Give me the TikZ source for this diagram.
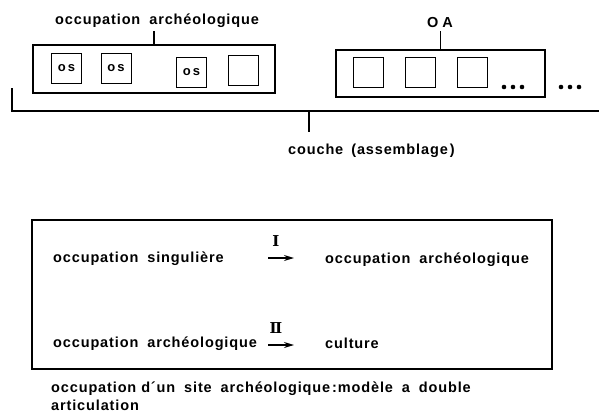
\documentclass[tikz,border=0pt]{standalone}
\usepackage{fontspec}
\newfontfamily\labfont{Liberation Sans Bold}[LetterSpace=6]
\newfontfamily\numfont{DejaVu Serif}
\usetikzlibrary{arrows.meta}
\tikzset{
  lab/.style={font=\labfont\fontsize{14.5}{17}\selectfont, inner sep=0pt, anchor=base west},
  labc/.style={lab, anchor=base},
  sq/.style={draw, line width=1pt, minimum width=30pt, minimum height=30pt, inner sep=0pt,
             font=\labfont\fontsize{13}{15}\selectfont},
  frame/.style={draw, line width=1.1pt, inner sep=0pt},
  ln/.style={line width=1.1pt},
  arr/.style={line width=1.3pt, -{Stealth[length=10pt,width=6pt]}},
  roman/.style={font=\numfont\bfseries\fontsize{15}{17}\selectfont, inner sep=0pt, anchor=base},
}
\begin{document}
\begin{tikzpicture}[x=1pt,y=-1pt]
\useasboundingbox (0,0) rectangle (599,413);
% top left group
\node[lab] (toplab) at (55,24) {occupation\hspace{9pt}archéologique};
\node[frame, minimum width=242pt, minimum height=48pt] (box1) at (154,69) {};
\node[sq] (s1) at (66.5,68) {o\hspace{2pt}s};
\node[sq] (s2) at (116,68) {o\hspace{2pt}s};
\node[sq] (s3) at (191.5,72) {o\hspace{2pt}s};
\node[sq] (s4) at (243,70) {};
\draw[ln] (box1.north) -- ([yshift=-4pt]box1.north |- toplab.south);
% top right group
\node[labc] (oa) at (440,27) {O\hspace{4pt}A};
\node[frame, minimum width=209pt, minimum height=47pt] (box2) at (440.5,73.5) {};
\node[sq] (t1) at (368,72) {};
\node[sq] (t2) at (420,72) {};
\node[sq] (t3) at (472,72) {};
\draw[ln] (box2.north) -- ([yshift=-4pt]box2.north |- oa.south);
\foreach \x in {504,513,522,561,570,579} \fill (\x,87) circle (2.3pt);
% bracket
\coordinate (bl) at (12,88);
\coordinate (br) at (599,111);
\coordinate (bm) at (309,111);
\node[lab] (couche) at (288,154) {couche\hspace{8pt}(assemblage\hspace{2pt})};
\coordinate (bt) at (309,132);
\draw[ln] (bl) |- (br);
\draw[ln] (bm) -- (bt);
% bottom frame
\node[frame, minimum width=520pt, minimum height=149pt] (frm) at (292,294.5) {};
\node[lab] (r1a) at (53,262) {occupation\hspace{9pt}singulière};
\node[lab] (r1b) at (325,263) {occupation\hspace{9pt}archéologique};
\node[roman] (n1) at (276,246) {Ⅰ};
\coordinate (a1s) at (268,258);
\coordinate (a1e) at (294,258);
\draw[arr] (a1s) -- (a1e);
\node[lab] (r2a) at (53,347) {occupation\hspace{9pt}archéologique};
\node[lab] (r2b) at (325,348) {culture};
\node[roman] (n2) at (276,333) {Ⅱ};
\coordinate (a2s) at (268,345);
\coordinate (a2e) at (294,345);
\draw[arr] (a2s) -- (a2e);
% caption
\node[lab] (cap1) at (51,392) {occupation d´un\hspace{4pt} site\hspace{4pt} archéologique\hspace{2pt}:modèle\hspace{4pt} a\hspace{4pt} double};
\node[lab] (cap2) at (51,410) {articulation};
\end{tikzpicture}
\end{document}
